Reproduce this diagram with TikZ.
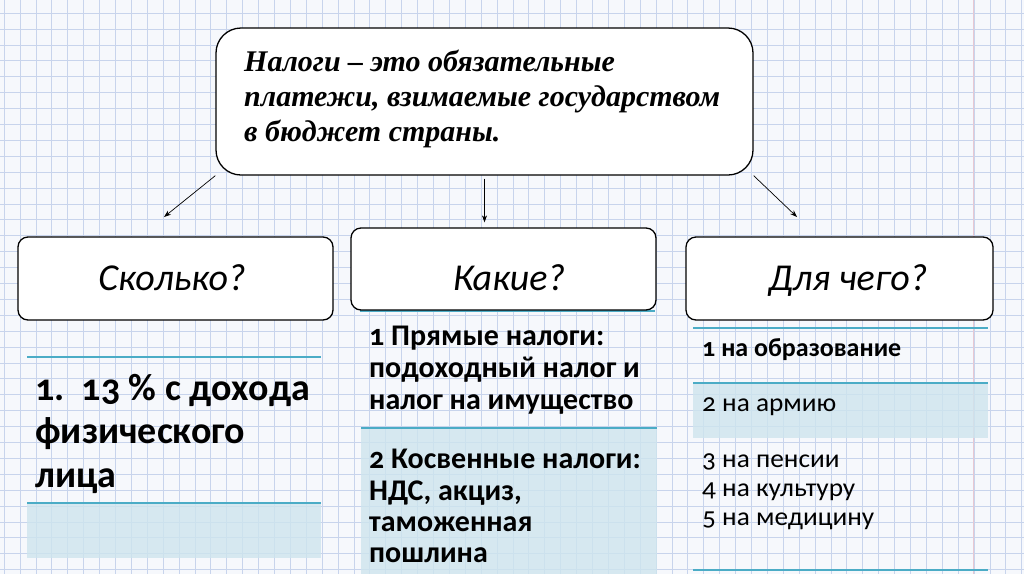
\documentclass[tikz,border=0pt]{standalone}
\usepackage{fontspec}
\setmainfont{Liberation Serif}
\newfontfamily\calfont{Carlito}[Numbers=OldStyle]
\newfontfamily\calwide{Carlito}[Numbers=OldStyle, FakeStretch=1.05]
\usetikzlibrary{arrows.meta}
\definecolor{paper}{RGB}{246,248,252}
\definecolor{gridc}{RGB}{200,212,236}
\definecolor{tealc}{RGB}{75,172,198}
\definecolor{shadec}{RGB}{206,229,238}
\definecolor{marginc}{RGB}{232,200,210}
\begin{document}
\begin{tikzpicture}[x=1pt,y=-1pt,
  box/.style={draw=black, line width=1.3pt, fill=white, rounded corners=10pt, inner sep=0pt},
  arr/.style={-{Stealth[length=7pt,width=5pt]}, line width=0.7pt},
  toptext/.style={font=\fontsize{30}{33}\selectfont\bfseries\itshape, inner sep=0pt},
  qtext/.style={font=\calfont\fontsize{38}{42}\selectfont\itshape, inner sep=0pt},
  bigtext/.style={font=\calfont\fontsize{38}{42}\selectfont\bfseries, inner sep=0pt},
  midtext/.style={font=\calfont\fontsize{30}{33}\selectfont\bfseries, inner sep=0pt},
  rightbold/.style={font=\calfont\fontsize{26}{29}\selectfont\bfseries, inner sep=0pt},
  righttext/.style={font=\calwide\fontsize{26}{29}\selectfont, inner sep=0pt},
  rulec/.style={draw=tealc, line width=1.3pt},
  band/.style={fill=shadec, opacity=0.8}
]
\useasboundingbox (0,0) rectangle (1024,574);
\fill[paper] (0,0) rectangle (1024,574);
\foreach \i in {0,...,64} \draw[gridc, line width=0.6pt] ({4+15.9*\i},0) -- ({4+15.9*\i},574);
\foreach \j in {0,...,36} \draw[gridc, line width=0.6pt] (0,{13+15.9*\j}) -- (1024,{13+15.9*\j});
\draw[marginc, line width=0.8pt] (973,0) -- (973,574);

% bands and rules
\fill[band] (27,503) rectangle (321,558);
\fill[band] (361,428) rectangle (657,574);
\fill[band] (693,383) rectangle (988,438);
\draw[rulec] (27,357) -- (321,357);
\draw[rulec] (27,503) -- (321,503);
\draw[rulec] (360,311) -- (655,311);
\draw[rulec] (361,428) -- (657,428);
\draw[rulec] (693,328) -- (988,328);
\draw[rulec] (693,383) -- (988,383);
\draw[rulec] (693,570) -- (988,570);

% boxes
\node[box, rounded corners=25pt, minimum width=537pt, minimum height=147pt] (top) at (484.5,101.5) {};
\node[box, minimum width=315pt, minimum height=83pt] (b1) at (175.5,278.5) {};
\node[box, minimum width=305pt, minimum height=82pt] (b2) at (503.5,269) {};
\node[box, minimum width=307pt, minimum height=83pt] (b3) at (839.5,278.5) {};

% arrows
\coordinate (a1) at (164,217);
\coordinate (a3) at (797,217);
\draw[arr] (top.south west) -- (a1);
\draw[arr] ([yshift=-3pt]top.south) -- ([yshift=5pt]top.south |- b2.north);
\draw[arr] (top.south east) -- (a3);

% top text
\node[toptext, anchor=base west] (t1) at (244,71) {Налоги – это обязательные};
\node[toptext, anchor=base west] (t2) at (244,106) {платежи, взимаемые государством};
\node[toptext, anchor=base west] (t3) at (244,141) {в бюджет страны.};

% questions
\node[qtext, anchor=base] (q1) at (172,290) {Сколько?};
\node[qtext, anchor=base] (q2) at (509,290) {Какие?};
\node[qtext, anchor=base] (q3) at (848,290) {Для чего?};

% left column
\node[bigtext, anchor=base west] (l1) at (35,400) {1.\ \ 13 \% с дохода};
\node[bigtext, anchor=base west] (l2) at (35,443) {физического};
\node[bigtext, anchor=base west] (l3) at (35,487) {лица};

% middle column
\node[midtext, anchor=base west] (m1) at (369,345) {1 Прямые налоги:};
\node[midtext, anchor=base west] (m2) at (369,377) {подоходный налог и};
\node[midtext, anchor=base west] (m3) at (369,409) {налог на имущество};
\node[midtext, anchor=base west] (m4) at (369,468) {2 Косвенные налоги:};
\node[midtext, anchor=base west] (m5) at (369,500) {НДС, акциз,};
\node[midtext, anchor=base west] (m6) at (369,531) {таможенная};
\node[midtext, anchor=base west] (m7) at (369,562) {пошлина};

% right column
\node[rightbold, anchor=base west] (r1) at (702,356) {1 на образование};
\node[righttext, anchor=base west] (r2) at (702,411) {2 на армию};
\node[righttext, anchor=base west] (r3) at (702,467) {3 на пенсии};
\node[righttext, anchor=base west] (r4) at (702,496) {4 на культуру};
\node[righttext, anchor=base west] (r5) at (702,525) {5 на медицину};
\end{tikzpicture}
\end{document}
